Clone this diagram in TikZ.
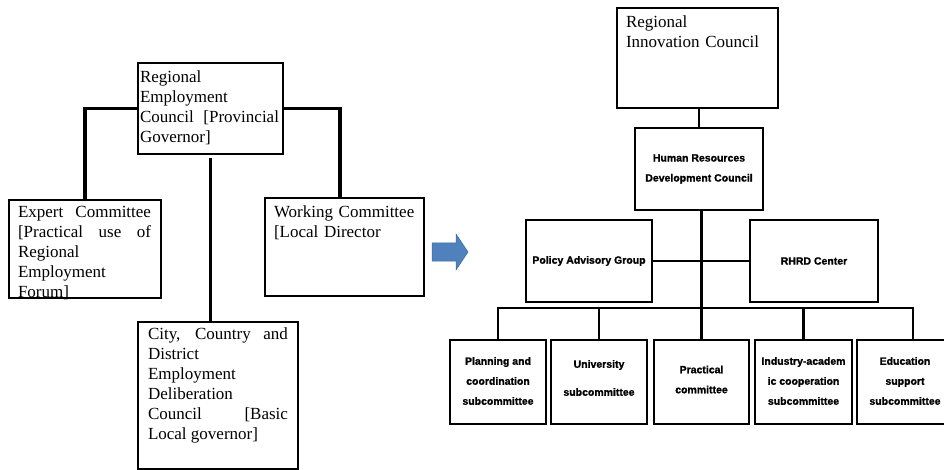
\documentclass[tikz,border=0pt]{standalone}
\usepackage{fontspec}
\setmainfont{Liberation Serif}
\newfontfamily\boxsans[FakeBold=1.2]{Liberation Sans}
\usetikzlibrary{calc}

\definecolor{arrowblue}{HTML}{4F81BD}
\definecolor{arrowedge}{HTML}{3C6A9E}

\tikzset{
  frame/.style={draw=black, line width=2.3pt, inner sep=0pt, outer sep=0pt, anchor=north west},
  serifnote/.style={anchor=north west, inner sep=0pt, outer sep=0pt, align=justify,
    font={\fontsize{17}{20}\selectfont\tolerance=10000 \hyphenpenalty=10000 }},
  plainnote/.style={serifnote, align=left},
  sansnote/.style={inner sep=0pt, outer sep=0pt, align=center,
    font={\boxsans\bfseries\fontsize{10.5}{20}\selectfont}},
  heavy/.style={line width=3.5pt},
  link/.style={line width=2.8pt},
}

\begin{document}
\begin{tikzpicture}[x=1pt, y=-1pt]
\useasboundingbox (0,0) rectangle (944,470);
\clip (0,0) rectangle (944,470);

% ---------- current structure ----------
\node[serifnote, text width=139pt] (rec-t) at (140,70.4)
  {Regional\newline{}Employment\newline{}Council [Provincial\linebreak{}Governor]};
\node[serifnote, text width=133pt] (exp-t) at (18,206.4)
  {Expert Committee\linebreak{}[Practical use of\linebreak{}Regional\newline{}Employment\newline{}Forum]};
\node[plainnote, text width=142pt] (work-t) at (274,205.4)
  {Working Committee\newline{}[Local Director};
\node[serifnote, text width=140pt] (city-t) at (148,327.4)
  {City, Country and\linebreak{}District\newline{}Employment\newline{}Deliberation\newline{}Council [Basic\linebreak{}Local governor]};

\node[frame, minimum width=145pt, minimum height=91pt]  (rec)  at (138,63)  {};
\node[frame, minimum width=152pt, minimum height=98pt]  (exp)  at (9,200)   {};
\node[frame, minimum width=159pt, minimum height=98pt]  (work) at (265,198) {};
\node[frame, minimum width=160pt, minimum height=147pt] (city) at (138,322) {};

\draw[heavy] (rec.west) -| (exp.north);
\draw[heavy] (rec.east) -| ([xshift=-4.5pt]work.north);
\draw[heavy] ([yshift=-4pt]rec.south) -- (rec.south |- city.north);

% ---------- transition arrow ----------
\filldraw[fill=arrowblue, draw=arrowedge, line width=0.5pt]
  (432,243) -- (456,243) -- (456,234) -- (468,252) -- (456,270) -- (456,261) -- (432,261) -- cycle;

% ---------- new structure ----------
\node[plainnote, text width=150pt] (ric-t) at (626,15.4)
  {Regional\newline{}Innovation Council};
\node[frame, minimum width=161pt, minimum height=100pt] (ric) at (617,8) {};

\node[frame, minimum width=128pt, minimum height=82pt] (hrd)    at (635,128) {};
\node[frame, minimum width=126pt, minimum height=82pt] (policy) at (526,220) {};
\node[frame, minimum width=128pt, minimum height=82pt] (rhrd)   at (750,220) {};

\node[frame, minimum width=96pt, minimum height=84pt] (plan)  at (450,340) {};
\node[frame, minimum width=96pt, minimum height=84pt] (univ)  at (551,340) {};
\node[frame, minimum width=95pt, minimum height=84pt] (pract) at (654,340) {};
\node[frame, minimum width=97pt, minimum height=84pt] (ind)   at (755,340) {};
\node[frame, minimum width=96pt, minimum height=84pt] (edu)   at (857,340) {};

\node[sansnote] (hrd-t)    at (hrd.center)    {Human Resources\\Development Council};
\node[sansnote] (policy-t) at (policy.center) {Policy Advisory Group};
\node[sansnote] (rhrd-t)   at (rhrd.center)   {RHRD Center};
\node[sansnote] (plan-t)   at ([yshift=1pt]plan.center)  {Planning and\\coordination\\subcommittee};
\node[sansnote] (univ-t)   at ([yshift=4pt]univ.center)  {University\\[8pt]subcommittee};
\node[sansnote] (pract-t)  at ([yshift=2.5pt]pract.center) {Practical\\committee};
\node[sansnote] (ind-t)    at ([yshift=1pt]ind.center)   {Industry-academ\\ic cooperation\\subcommittee};
\node[sansnote] (edu-t)    at ([yshift=1pt]edu.center)   {Education\\support\\subcommittee};

\coordinate (busR) at (913,308);
\draw[link] (hrd.north) -- (hrd.north |- ric.south);
\draw[link] (pract.north |- hrd.south) -- (pract.north);
\draw[link] (policy.east) -- (rhrd.west);
\draw[link] (plan.north) |- (busR) -- (busR |- edu.north);
\draw[link] (univ.north) -- (univ.north |- busR);
\draw[link] (ind.north) -- (ind.north |- busR);
\end{tikzpicture}
\end{document}
